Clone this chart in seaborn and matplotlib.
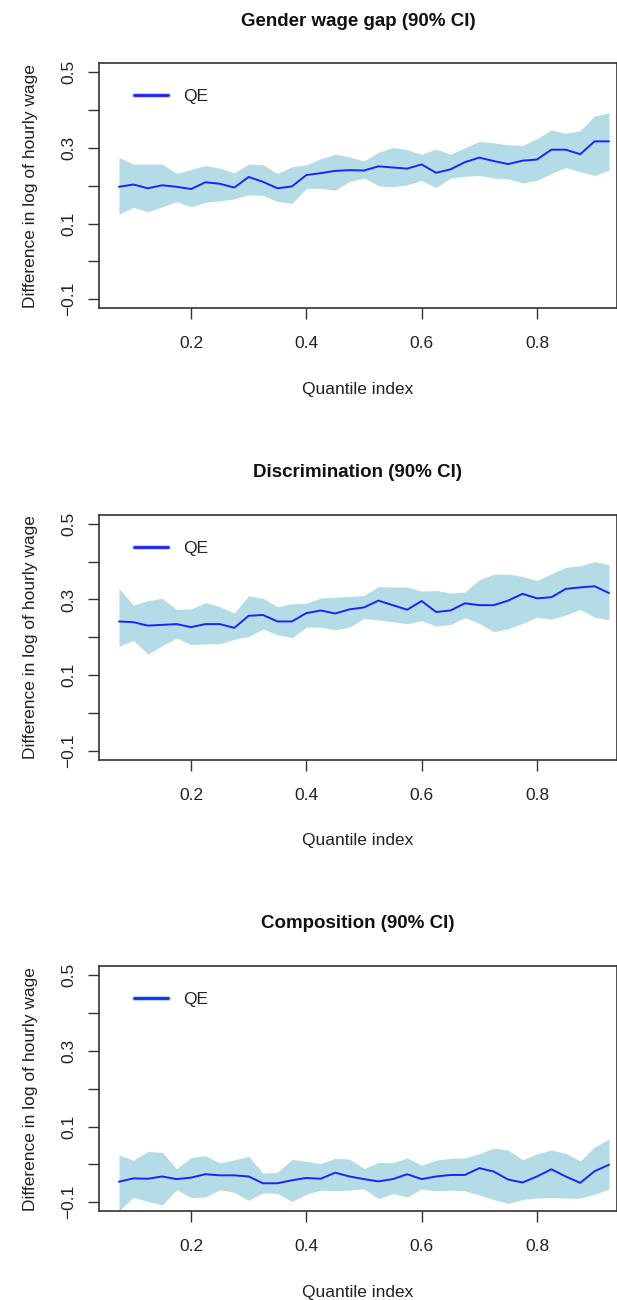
import numpy as np
import pandas as pd
import matplotlib
matplotlib.use("Agg")
import matplotlib.pyplot as plt
import matplotlib.patheffects as pe
import seaborn as sns

# ---------------- data ----------------
quantiles = [0.075, 0.1, 0.125, 0.15, 0.175, 0.2, 0.225, 0.25, 0.275, 0.3,
             0.325, 0.35, 0.375, 0.4, 0.425, 0.45, 0.475, 0.5, 0.525, 0.55,
             0.575, 0.6, 0.625, 0.65, 0.675, 0.7, 0.725, 0.75, 0.775, 0.8,
             0.825, 0.85, 0.875, 0.9, 0.925]

gap_qe = [0.197, 0.203, 0.193, 0.201, 0.197, 0.191, 0.209, 0.205, 0.195, 0.223,
          0.210, 0.193, 0.198, 0.228, 0.233, 0.239, 0.241, 0.240, 0.251, 0.248,
          0.245, 0.256, 0.234, 0.243, 0.262, 0.274, 0.265, 0.257, 0.266, 0.269,
          0.295, 0.295, 0.283, 0.317, 0.317]
gap_hi = [0.274, 0.257, 0.257, 0.257, 0.232, 0.243, 0.253, 0.246, 0.234, 0.257,
          0.255, 0.232, 0.250, 0.255, 0.271, 0.283, 0.276, 0.265, 0.288, 0.301,
          0.295, 0.283, 0.297, 0.283, 0.300, 0.317, 0.313, 0.308, 0.306, 0.324,
          0.347, 0.338, 0.345, 0.384, 0.392]
gap_lo = [0.124, 0.143, 0.131, 0.144, 0.158, 0.144, 0.156, 0.160, 0.165, 0.176,
          0.174, 0.158, 0.153, 0.193, 0.193, 0.188, 0.211, 0.220, 0.200, 0.197,
          0.202, 0.214, 0.195, 0.220, 0.225, 0.227, 0.220, 0.218, 0.207, 0.214,
          0.232, 0.248, 0.237, 0.227, 0.241]

disc_qe = [0.242, 0.240, 0.231, 0.233, 0.235, 0.227, 0.235, 0.235, 0.225, 0.257,
           0.259, 0.242, 0.242, 0.264, 0.271, 0.263, 0.274, 0.279, 0.297, 0.285,
           0.273, 0.296, 0.267, 0.271, 0.290, 0.285, 0.285, 0.297, 0.315, 0.303,
           0.306, 0.328, 0.332, 0.335, 0.317]
disc_hi = [0.329, 0.285, 0.297, 0.303, 0.274, 0.275, 0.292, 0.281, 0.264, 0.310,
           0.303, 0.281, 0.289, 0.290, 0.304, 0.306, 0.308, 0.311, 0.334, 0.333,
           0.333, 0.322, 0.324, 0.317, 0.320, 0.352, 0.367, 0.367, 0.361, 0.350,
           0.368, 0.385, 0.389, 0.400, 0.392]
disc_lo = [0.176, 0.192, 0.156, 0.178, 0.198, 0.181, 0.183, 0.183, 0.195, 0.202,
           0.222, 0.207, 0.199, 0.227, 0.227, 0.220, 0.227, 0.250, 0.246, 0.241,
           0.236, 0.244, 0.230, 0.234, 0.252, 0.237, 0.215, 0.223, 0.237, 0.253,
           0.248, 0.259, 0.274, 0.253, 0.246]

comp_qe = [-0.046, -0.037, -0.038, -0.032, -0.039, -0.035, -0.026, -0.029, -0.029, -0.032,
           -0.050, -0.050, -0.042, -0.036, -0.038, -0.022, -0.032, -0.039, -0.045, -0.039,
           -0.026, -0.039, -0.032, -0.028, -0.028, -0.010, -0.019, -0.040, -0.048, -0.032,
           -0.013, -0.032, -0.049, -0.018, -0.001]
comp_hi = [0.025, 0.011, 0.034, 0.032, -0.012, 0.018, 0.023, 0.004, 0.012, 0.021,
           -0.023, -0.021, 0.013, 0.008, 0.002, 0.016, 0.014, -0.011, 0.005, 0.004,
           0.017, -0.002, 0.011, 0.016, 0.017, 0.028, 0.043, 0.038, 0.012, 0.028,
           0.038, 0.029, 0.009, 0.046, 0.067]
comp_lo = [-0.123, -0.087, -0.098, -0.107, -0.067, -0.088, -0.086, -0.067, -0.074, -0.095,
           -0.075, -0.077, -0.098, -0.079, -0.068, -0.070, -0.068, -0.065, -0.091, -0.077,
           -0.086, -0.065, -0.070, -0.068, -0.070, -0.081, -0.093, -0.103, -0.093, -0.089,
           -0.088, -0.089, -0.089, -0.079, -0.065]

titles = ["Gender wage gap (90% CI)", "Discrimination (90% CI)", "Composition (90% CI)"]
series = [(gap_qe, gap_lo, gap_hi), (disc_qe, disc_lo, disc_hi), (comp_qe, comp_lo, comp_hi)]
xticks = [0.2, 0.4, 0.6, 0.8]
xticklabels = ["0.2", "0.4", "0.6", "0.8"]
yticks = [-0.1, 0.0, 0.1, 0.2, 0.3, 0.4, 0.5]
yticklabels = ["\u22120.1", "", "0.1", "", "0.3", "", "0.5"]
xlabel = "Quantile index"
ylabel = "Difference in log of hourly wage"
legend_label = "QE"

# ---------------- style ----------------
sns.set_style("ticks")
plt.rcParams['font.family'] = ['Liberation Sans', 'DejaVu Sans']

W, H = 617, 1300
fig = plt.figure(figsize=(W / 100, H / 100), dpi=100)

band_color = "#b4dce7"
line_color = "#2020ff"
edge = "#333333"

left_px, right_px = 99.3, 616.5
tops = [63.0, 514.7, 966.0]
ax_h = 245.3

for (qe, lo, hi), title, top in zip(series, titles, tops):
    ax = fig.add_axes([left_px / W, 1 - (top + ax_h) / H,
                       (right_px - left_px) / W, ax_h / H])
    df = pd.DataFrame({"q": quantiles, "qe": qe, "lo": lo, "hi": hi})
    ax.fill_between(df["q"], df["lo"], df["hi"], color=band_color, linewidth=0)
    sns.lineplot(data=df, x="q", y="qe", ax=ax, color=line_color, linewidth=1.4,
                 label=legend_label, legend=False)
    ax.set_xlim(0.0409, 0.938)
    ax.set_ylim(-0.124, 0.524)
    ax.set_xticks(xticks)
    ax.set_xticklabels(xticklabels)
    ax.set_yticks(yticks)
    ax.set_yticklabels(yticklabels, rotation=90, va="center", ha="right")
    ax.tick_params(axis="both", length=8, width=1.0, color=edge, labelsize=12.5,
                   labelcolor="#222222")
    ax.tick_params(axis="x", pad=12)
    ax.tick_params(axis="y", pad=8.5)
    for s in ax.spines.values():
        s.set_color(edge)
        s.set_linewidth(1.2)
    ax.set_xlabel(xlabel, fontsize=12.5, color="#222222", labelpad=22)
    ax.set_ylabel(ylabel, fontsize=12.5, color="#222222", labelpad=16.5)
    ax.set_title(title, fontsize=13.5, fontweight="bold", color="#111111", pad=27)
    leg = ax.legend(loc="center left", bbox_to_anchor=(0.0495, 0.862), frameon=False,
                    borderpad=0, handlelength=2.0, handletextpad=0.85, fontsize=12.5)
    for h in leg.get_lines():
        h.set_linewidth(2.0)
        h.set_path_effects([pe.Stroke(linewidth=3.6, foreground=band_color), pe.Normal()])
    for t in leg.get_texts():
        t.set_color("#222222")

fig.savefig("out.png", dpi=100)
